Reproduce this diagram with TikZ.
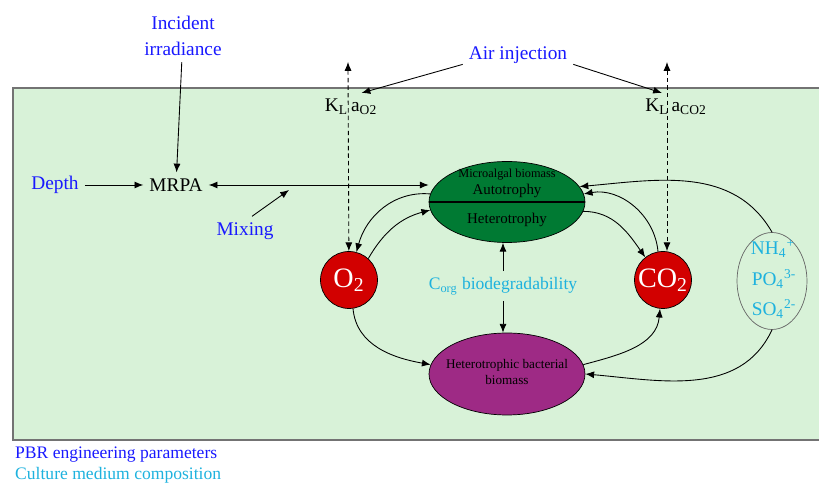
\documentclass[tikz,border=0pt]{standalone}
\usepackage{fontspec}
\setmainfont{Liberation Serif}
\usetikzlibrary{shapes.geometric,arrows.meta,positioning}

\definecolor{panelgreen}{RGB}{216,242,216}
\definecolor{paramblue}{RGB}{25,25,255}
\definecolor{mediumcyan}{RGB}{30,178,222}
\definecolor{algagreen}{RGB}{0,122,51}
\definecolor{bactpurple}{RGB}{158,42,133}
\definecolor{gasred}{RGB}{210,0,0}

\begin{document}
\begin{tikzpicture}[
        x=0.02cm, y=0.02cm,
        font=\fontsize{11}{15}\selectfont,
        param/.style={text=paramblue, align=center},
        medium/.style={text=mediumcyan, align=center},
        ion/.style={medium, inner sep=1pt},
        gas/.style={circle, draw, fill=gasred, text=white, minimum size=1.14cm, inner sep=0pt, font=\fontsize{16}{18}\selectfont},
        biomass/.style={ellipse, draw, minimum width=3.12cm, minimum height=1.62cm},
        arrow/.style={-{Latex[length=5pt,width=4pt]}, line width=0.5pt},
        twoway/.style={{Latex[length=5pt,width=4pt]}-{Latex[length=5pt,width=4pt]}, line width=0.5pt},
        transfer/.style={twoway, dash pattern=on 2.5pt off 1.8pt}
    ]
        \useasboundingbox (0,0) rectangle (819,483);
        % Photobioreactor
        \draw[fill=panelgreen, draw=black!55, line width=0.7pt] (13,43) rectangle (825,395);

        % Light, depth and mixing
        \node[param] (light) at (183,447) {Incident\\irradiance};
        \node (mrpa) at (176,298) {MRPA};
        \node[param] (depth) at (55,298) {Depth};
        \node[param] (mixing) at (245,252) {Mixing};
        \coordinate (mixpt) at (289,293);

        % Gas transfer
        \node[param] (air) at (518,428) {Air injection};
        \node (klo2) at (351,376) {K\textsubscript{L}\,a\textsubscript{O2}};
        \node (klco2) at (676,376) {K\textsubscript{L}\,a\textsubscript{CO2}};
        \coordinate (o2vent) at (348,421);
        \coordinate (co2vent) at (667,421);

        % Biomass
        \node[biomass, fill=algagreen] (alga) at (507,281) {};
        \draw[line width=1.2pt] (alga.west) -- (alga.east);
        \node[font=\fontsize{7}{8}\selectfont] (algatitle) at (507,308) {Microalgal biomass};
        \node[font=\fontsize{8.5}{10}\selectfont] (auto) at (507,292) {Autotrophy};
        \node[font=\fontsize{8.5}{10}\selectfont] (hetero) at (507,263) {Heterotrophy};
        \node[biomass, fill=bactpurple, minimum height=1.64cm] (bact) at (507,109) {};
        \node[align=center, font=\fontsize{7.5}{9.5}\selectfont] (bacttext) at (507,111) {Heterotrophic bacterial\\biomass};

        % Gases
        \node[gas] (o2) at (349,203) {O\textsubscript{2}};
        \node[gas] (co2) at (663,203) {CO\textsubscript{2}};

        % Culture medium
        \node[medium, font=\fontsize{10}{12}\selectfont] (corg) at (503,197) {C\textsubscript{org} biodegradability};
        \node[ellipse, draw=black!60, minimum width=1.4cm, minimum height=1.94cm] (nutri) at (772,202) {};
        \node[ion] (nh4) at (773,234) {NH\textsubscript{4}\textsuperscript{+}};
        \node[ion] (po4) at (774,204) {PO\textsubscript{4}\textsuperscript{3-}};
        \node[ion] (so4) at (774,174) {SO\textsubscript{4}\textsuperscript{2-}};

        % Legend
        \node[param, anchor=west, font=\fontsize{10}{12}\selectfont] (pbrkey) at (9,28) {PBR engineering parameters};
        \node[medium, anchor=west, font=\fontsize{10}{12}\selectfont] (mediumkey) at (9,8) {Culture medium composition};

        % Connections
        \draw[arrow] (light) -- (mrpa);
        \draw[arrow] (depth) -- (mrpa);
        \draw[twoway] (mrpa) -- (mrpa -| alga.west);
        \draw[arrow] ([xshift=4pt]mixing.north) -- (mixpt);
        \draw[arrow] ([yshift=3pt]air.south west) -- ([xshift=6pt]klo2.north);
        \draw[arrow] ([yshift=3pt]air.south east) -- ([xshift=-8pt]klco2.north);
        \draw[transfer] (o2vent) -- (o2);
        \draw[transfer] (co2vent) -- (co2vent |- co2.north);
        \draw[arrow] (corg) -- (corg |- alga.south);
        \draw[arrow] (corg) -- (corg |- bact.north);

        % Exchanges
        \draw[arrow] (alga.174) to[out=175, in=75] (o2.75);
        \draw[arrow] (o2.48) to[out=60, in=195] (alga.186);
        \draw[arrow] (alga.353) to[out=0, in=125] (co2.128);
        \draw[arrow] (co2.100) to[out=95, in=10] (alga.6);
        \draw[arrow] (nutri.north) to[out=120, in=5] (alga.12);
        \draw[arrow] (nutri.south) to[out=-115, in=-5] (bact.east);
        \draw[arrow] (o2.278) to[out=-85, in=170] (bact.173);
        \draw[arrow] (bact.7) to[out=15, in=-95] (co2.264);
    \end{tikzpicture}
\end{document}
